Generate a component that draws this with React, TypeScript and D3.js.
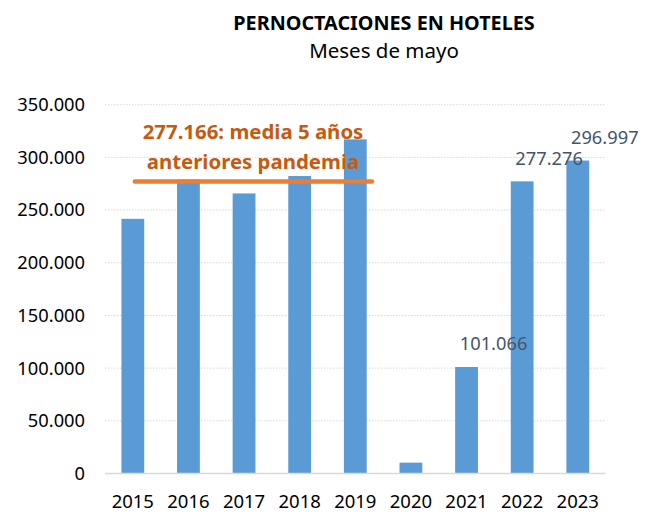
import * as d3 from "d3";

const years = ["2015", "2016", "2017", "2018", "2019", "2020", "2021", "2022", "2023"];
const nights = [241700, 279000, 265800, 282300, 317100, 10300, 101066, 277276, 296997];
const labelled = ["2021", "2022", "2023"];
const yTicks = [0, 50000, 100000, 150000, 200000, 250000, 300000, 350000];
const avgYears = ["2015", "2019"];
const avgValue = 277166;

const W = 658;
const H = 514;
const left = 105;
const right = 605.6;
const top = 104.7;
const bottom = 473.5;

const fmt = (v: number) => (v === 0 ? "0" : d3.format(",")(v).replace(/,/g, "."));

const App = () => {
  const x = d3.scaleBand<string>().domain(years).range([left, right]).paddingInner(0.59).paddingOuter(0.295);
  const y = d3.scaleLinear().domain([0, 350000]).range([bottom, top]);
  const font = "'Noto Sans', sans-serif";
  const mid = (yr: string) => x(yr)! + x.bandwidth() / 2;

  // average line runs from the 2015 bar to just past the 2019 bar
  const x0 = mid(avgYears[0]) + 2;
  const x1 = mid(avgYears[1]) + x.step() * 0.3;

  return (
    <svg width={W} height={H} style={{ position: "absolute", left: 0, top: 0, background: "#fff" }} fontFamily={font}>
      <text x={384} y={30} textAnchor="middle" fontSize={19.8} fontWeight="bold" fill="#000">
        PERNOCTACIONES EN HOTELES
      </text>
      <text x={384} y={58} textAnchor="middle" fontSize={20.5} fill="#000">
        Meses de mayo
      </text>

      {yTicks.map((t) => (
        <g key={t}>
          {t > 0 && (
            <line x1={left} x2={right} y1={y(t)} y2={y(t)} stroke="#D9D9D9" strokeWidth={1} strokeDasharray="1.5,1.5" />
          )}
          <text x={85} y={y(t)} dy="0.35em" textAnchor="end" fontSize={18.3} fill="#000">
            {fmt(t)}
          </text>
        </g>
      ))}

      {years.map((yr, i) => (
        <rect key={yr} x={x(yr)} y={y(nights[i])} width={x.bandwidth()} height={bottom - y(nights[i])} fill="#5B9BD5" />
      ))}

      <line x1={left} x2={right} y1={bottom} y2={bottom} stroke="#D9D9D9" strokeWidth={1.3} />

      {years.map((yr) => (
        <text key={yr} x={mid(yr)} y={508} textAnchor="middle" fontSize={18.5} fill="#000">
          {yr}
        </text>
      ))}

      {years.map((yr, i) =>
        labelled.includes(yr) ? (
          <text key={yr} x={mid(yr) + 27} y={y(nights[i]) - 23} dy="0.35em" textAnchor="middle" fontSize={18.3} fill="#44546A">
            {fmt(nights[i])}
          </text>
        ) : null
      )}

      <line x1={x0} x2={x1} y1={y(avgValue)} y2={y(avgValue)} stroke="#ED7D31" strokeWidth={4.5} strokeLinecap="round" />
      <text x={253} y={139} textAnchor="middle" fontSize={20.4} fontWeight="bold" fill="#C55A11">
        {fmt(avgValue)}: media 5 años
      </text>
      <text x={253} y={169} textAnchor="middle" fontSize={20.4} fontWeight="bold" fill="#C55A11">
        anteriores pandemia
      </text>
    </svg>
  );
};

export default App;
